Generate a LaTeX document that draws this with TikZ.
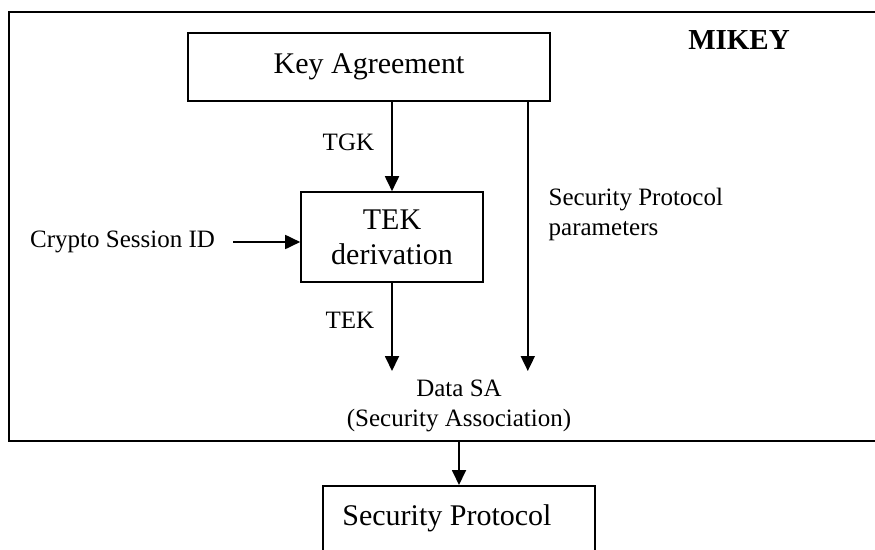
\documentclass[tikz,border=0pt]{standalone}
\usepackage{fontspec}
\setmainfont{Liberation Serif}
\usetikzlibrary{arrows.meta,positioning}
\begin{document}
\begin{tikzpicture}[x=1pt,y=-1pt,
  box/.style={draw, line width=1.6pt, inner sep=0pt, align=center,
              font=\fontsize{30}{35}\selectfont},
  big/.style={inner sep=0pt, font=\fontsize{30}{35}\selectfont},
  lbl/.style={inner sep=0pt, font=\fontsize{25}{30}\selectfont},
  arr/.style={line width=1.8pt, -{Triangle[length=15pt,width=14pt]}}]
\clip (0,0) rectangle (875,549);
% MIKEY frame, open to the right
\node[draw, line width=2pt, inner sep=0pt, minimum width=900pt, minimum height=429pt,
      anchor=north west] (frame) at (8,11) {};
\node[inner sep=0pt, font=\fontsize{29}{34}\selectfont\bfseries] (mikey) at (739,40) {MIKEY};
% boxes
\node[box, minimum width=362pt, minimum height=68pt] (ka) at (369,67) {Key Agreement};
\node[box, minimum width=182pt, minimum height=90pt] (tek) at (392,237) {TEK\\derivation};
\node[lbl, anchor=west] (cs) at (30,242) {Crypto Session ID};
\node[lbl, align=center, anchor=north, inner ysep=9pt] (dsa) at (459,371)
     {Data SA\\(Security Association)};
\node[draw, line width=1.6pt, inner sep=0pt, minimum width=272pt, minimum height=100pt,
      anchor=north] (sp) at (459,485) {};
\node[big, anchor=west] (spt) at ([xshift=20pt,yshift=-33pt]sp.north west) {Security Protocol};
\coordinate (sppar) at ([xshift=-23pt]ka.south east);
% connectors
\draw[arr] (tek.north |- ka.south) -- node[lbl, pos=0.45, left=17pt] {TGK} (tek.north);
\draw[arr, shorten <=18pt] (cs.east) -- (tek.west |- cs.east);
\draw[arr] (tek.south) -- node[lbl, pos=0.43, left=17pt] {TEK} (tek.south |- dsa.north);
\draw[arr] (sppar) -- node[lbl, pos=0.42, right=20pt, align=left]
     {Security Protocol\\parameters} (sppar |- dsa.north);
\draw[arr] (frame.south -| sp.north) -- (sp.north);
\end{tikzpicture}
\end{document}
